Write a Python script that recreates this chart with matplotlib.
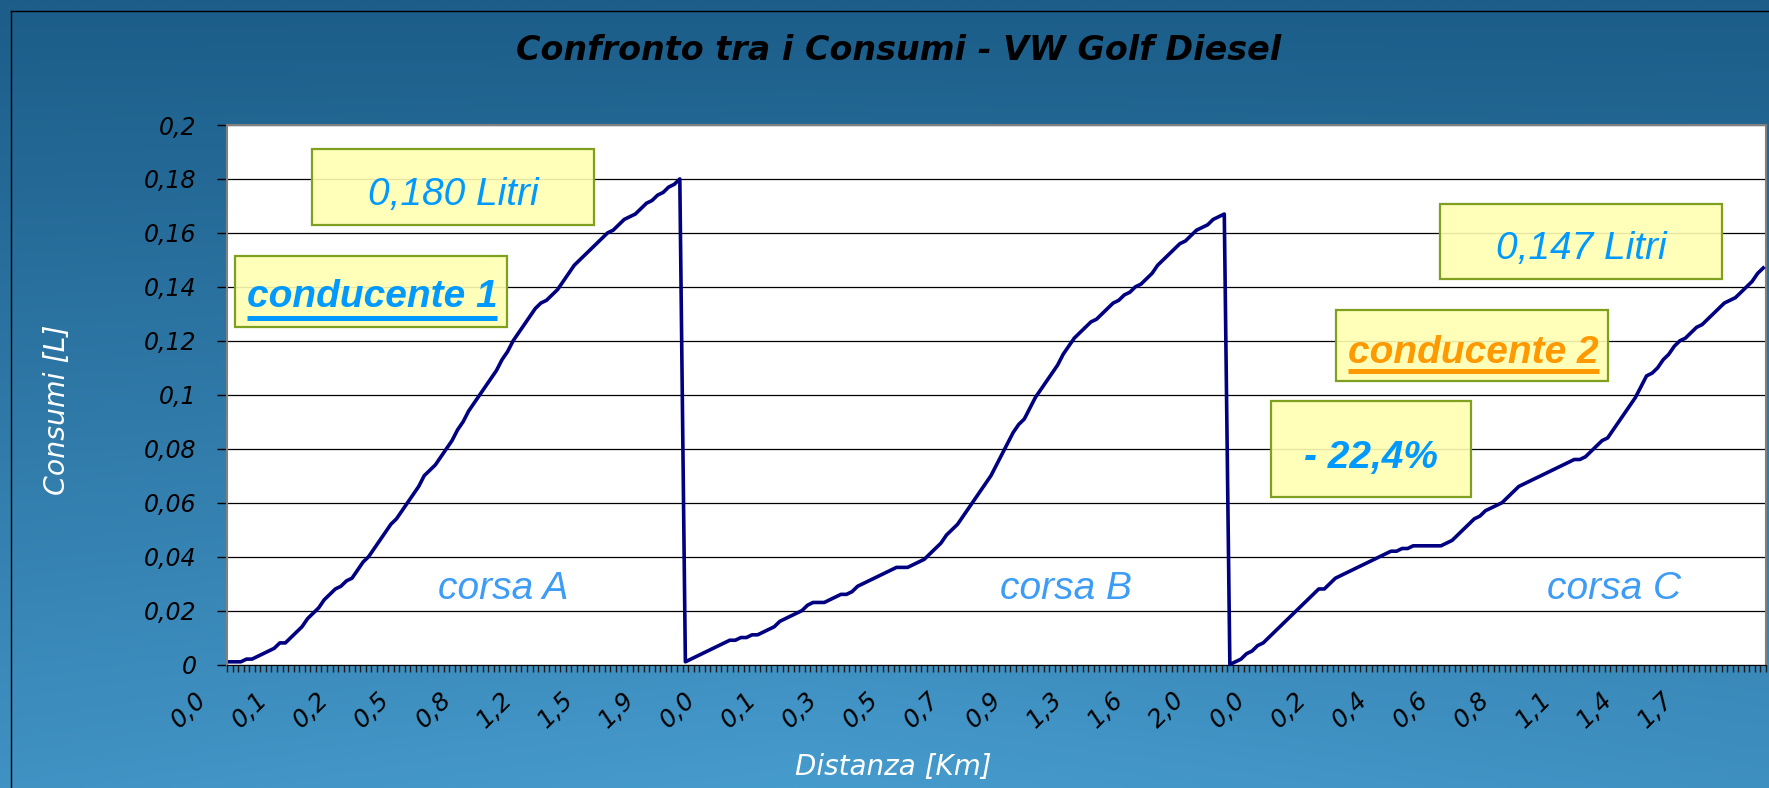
import matplotlib
matplotlib.use("Agg")
import matplotlib.pyplot as plt
import numpy as np
from matplotlib import font_manager
from matplotlib.patches import Rectangle
from matplotlib.transforms import ScaledTranslation
from matplotlib.colors import LinearSegmentedColormap

# consumption [L] per recorded point, three runs one after the other
corsa_a = [0.001, 0.001, 0.001, 0.002, 0.002, 0.003, 0.004, 0.005, 0.006, 0.008,
           0.008, 0.010, 0.012, 0.014, 0.017, 0.019, 0.021, 0.024, 0.026, 0.028,
           0.029, 0.031, 0.032, 0.035, 0.038, 0.040, 0.043, 0.046, 0.049, 0.052,
           0.054, 0.057, 0.060, 0.063, 0.066, 0.070, 0.072, 0.074, 0.077, 0.080,
           0.083, 0.087, 0.090, 0.094, 0.097, 0.100, 0.103, 0.106, 0.109, 0.113,
           0.116, 0.120, 0.123, 0.126, 0.129, 0.132, 0.134, 0.135, 0.137, 0.139,
           0.142, 0.145, 0.148, 0.150, 0.152, 0.154, 0.156, 0.158, 0.160, 0.161,
           0.163, 0.165, 0.166, 0.167, 0.169, 0.171, 0.172, 0.174, 0.175, 0.177,
           0.178, 0.180]
corsa_b = [0.001, 0.002, 0.003, 0.004, 0.005, 0.006, 0.007, 0.008, 0.009, 0.009,
           0.010, 0.010, 0.011, 0.011, 0.012, 0.013, 0.014, 0.016, 0.017, 0.018,
           0.019, 0.020, 0.022, 0.023, 0.023, 0.023, 0.024, 0.025, 0.026, 0.026,
           0.027, 0.029, 0.030, 0.031, 0.032, 0.033, 0.034, 0.035, 0.036, 0.036,
           0.036, 0.037, 0.038, 0.039, 0.041, 0.043, 0.045, 0.048, 0.050, 0.052,
           0.055, 0.058, 0.061, 0.064, 0.067, 0.070, 0.074, 0.078, 0.082, 0.086,
           0.089, 0.091, 0.095, 0.099, 0.102, 0.105, 0.108, 0.111, 0.115, 0.118,
           0.121, 0.123, 0.125, 0.127, 0.128, 0.130, 0.132, 0.134, 0.135, 0.137,
           0.138, 0.140, 0.141, 0.143, 0.145, 0.148, 0.150, 0.152, 0.154, 0.156,
           0.157, 0.159, 0.161, 0.162, 0.163, 0.165, 0.166, 0.167]
corsa_c = [0.000, 0.001, 0.002, 0.004, 0.005, 0.007, 0.008, 0.010, 0.012, 0.014,
           0.016, 0.018, 0.020, 0.022, 0.024, 0.026, 0.028, 0.028, 0.030, 0.032,
           0.033, 0.034, 0.035, 0.036, 0.037, 0.038, 0.039, 0.040, 0.041, 0.042,
           0.042, 0.043, 0.043, 0.044, 0.044, 0.044, 0.044, 0.044, 0.044, 0.045,
           0.046, 0.048, 0.050, 0.052, 0.054, 0.055, 0.057, 0.058, 0.059, 0.060,
           0.062, 0.064, 0.066, 0.067, 0.068, 0.069, 0.070, 0.071, 0.072, 0.073,
           0.074, 0.075, 0.076, 0.076, 0.077, 0.079, 0.081, 0.083, 0.084, 0.087,
           0.090, 0.093, 0.096, 0.099, 0.103, 0.107, 0.108, 0.110, 0.113, 0.115,
           0.118, 0.120, 0.121, 0.123, 0.125, 0.126, 0.128, 0.130, 0.132, 0.134,
           0.135, 0.136, 0.138, 0.140, 0.142, 0.145, 0.147]

# distance labels shown every 11 points
km_labels = ["0,0", "0,1", "0,2", "0,5", "0,8", "1,2", "1,5", "1,9",
             "0,0", "0,1", "0,3", "0,5", "0,7", "0,9", "1,3", "1,6", "2,0",
             "0,0", "0,2", "0,4", "0,6", "0,8", "1,1", "1,4", "1,7"]
label_step = 11
y_ticks = [0, 0.02, 0.04, 0.06, 0.08, 0.1, 0.12, 0.14, 0.16, 0.18, 0.2]

consumi = corsa_a + corsa_b + corsa_c
n = len(consumi)
x = np.arange(n)

narrow = any(f.name == "Liberation Sans Narrow" for f in font_manager.fontManager.ttflist)
box_family = "Liberation Sans Narrow" if narrow else "Liberation Sans"
box_size = 33 if narrow else 28

W, H = 1769, 788
fig = plt.figure(figsize=(W / 100, H / 100), dpi=100)

# blue gradient background + outer frame
bg = fig.add_axes([0, 0, 1, 1], zorder=-10)
gy, gx = np.mgrid[0:1:300j, 0:1:600j]
t = 0.8 * gy + 0.2 * gy * (1 - np.abs(gx - 0.45) * 1.6)
cmap = LinearSegmentedColormap.from_list("bg", ["#1c5d89", "#469bcd"])
bg.imshow(t, cmap=cmap, extent=[0, 1, 0, 1], aspect="auto", vmin=0, vmax=1)
bg.plot([11 / W, 1], [1 - 11 / H, 1 - 11 / H], color="black", lw=1)
bg.plot([11 / W, 11 / W], [0, 1 - 11 / H], color="black", lw=1)
bg.set_xlim(0, 1)
bg.set_ylim(0, 1)
bg.axis("off")

ax = fig.add_axes([227 / W, 123.5 / H, 1539 / W, 539.5 / H])
ax.set_facecolor("white")
ax.plot(x, consumi, color="#000080", lw=2.6, solid_joinstyle="round", clip_on=False, zorder=4)
ax.set_xlim(-0.5, n - 0.5)
ax.set_ylim(0, 0.2)

ax.set_yticks(y_ticks)
ax.set_yticklabels(["0" if v == 0 else ("%g" % v).replace(".", ",") for v in y_ticks],
                   family="DejaVu Sans", style="italic", fontsize=17)
ax.tick_params(axis="y", length=7, width=1, color="black", pad=15)
ax.yaxis.grid(True, color="black", lw=0.9)
ax.set_axisbelow(True)

ax.set_xticks(np.arange(len(km_labels)) * label_step)
ax.set_xticklabels(km_labels, rotation=45, ha="center", va="center", rotation_mode="anchor",
                   family="DejaVu Sans", style="italic", fontsize=18)
ax.tick_params(axis="x", which="major", length=0, pad=33)
ax.set_xticks(np.arange(-0.5, n, 1), minor=True)
ax.tick_params(axis="x", which="minor", length=5, width=1, color="#1a1a1a")
for lab in ax.get_xticklabels():
    lab.set_transform(lab.get_transform() + ScaledTranslation(-0.41, 0, fig.dpi_scale_trans))

for side in ["left", "top", "right"]:
    ax.spines[side].set_color("#808080")
    ax.spines[side].set_linewidth(1.5)
ax.spines["bottom"].set_color("black")

fig.text(899 / W, 1 - 50 / H, "Confronto tra i Consumi - VW Golf Diesel", ha="center", va="center",
         family="DejaVu Sans", weight="bold", style="italic", fontsize=24, color="black")
fig.text(57 / W, 1 - 410 / H, "Consumi [L]", rotation=90, ha="center", va="center",
         family="DejaVu Sans", style="italic", fontsize=20.4, color="white")
fig.text(893 / W, 1 - 767 / H, "Distanza [Km]", ha="center", va="center",
         family="DejaVu Sans", style="italic", fontsize=20, color="white")

# annotation boxes (axes fraction)
boxes = [
    ((0.0550, 0.8147, 0.2385, 0.9550), "0,180 Litri", (0.1468, 0.8517), "#0099ff", "normal", None),
    ((0.0052, 0.6256, 0.1819, 0.7572), "conducente 1", (0.0942, 0.6632), "#0099ff", "bold", 0.6423),
    ((0.7882, 0.7146, 0.9714, 0.8536), "0,147 Litri", (0.8798, 0.7516), "#0099ff", "normal", None),
    ((0.7206, 0.5255, 0.8973, 0.6571), "conducente 2", (0.8099, 0.5583), "#ff9900", "bold", 0.5440),
    ((0.6784, 0.3099, 0.8083, 0.4890), "- 22,4%", (0.7433, 0.3637), "#0099ff", "bold", None),
]
texts = []
for (x0, y0, x1, y1), s, (tx, ty), col, wt, uy in boxes:
    ax.add_patch(Rectangle((x0, y0), x1 - x0, y1 - y0, transform=ax.transAxes,
                           facecolor=(1, 1, 0.70, 0.9), edgecolor="#7fa01e", lw=1.6, zorder=3))
    tt = ax.text(tx, ty, s, transform=ax.transAxes, ha="center", va="baseline", color=col,
                 family=box_family, style="italic", weight=wt, fontsize=box_size, zorder=5)
    texts.append((tt, uy, col))

for s, cx in [("corsa A", 0.1793), ("corsa B", 0.5452), ("corsa C", 0.9012)]:
    ax.text(cx, 0.1214, s, transform=ax.transAxes, ha="center", va="baseline", color="#3d9cf5",
            family=box_family, style="italic", fontsize=box_size, zorder=5)

fig.canvas.draw()
inv = ax.transAxes.inverted()
for tt, uy, col in texts:
    if uy is None:
        continue
    bb = tt.get_window_extent()
    (ux0, _), (ux1, _) = inv.transform([[bb.x0, bb.y0], [bb.x1, bb.y1]])
    ax.plot([ux0, ux1], [uy, uy], transform=ax.transAxes, color=col, lw=3.6,
            solid_capstyle="butt", clip_on=False, zorder=5)

fig.savefig("out.png", dpi=100)
